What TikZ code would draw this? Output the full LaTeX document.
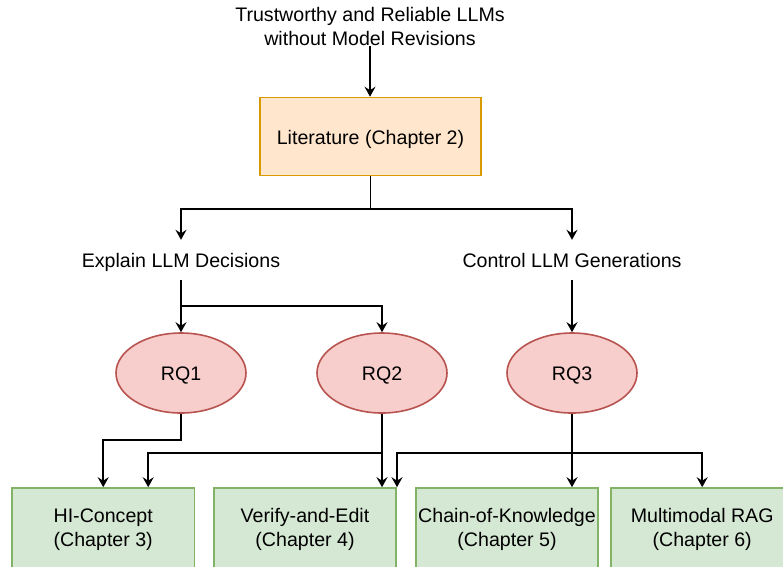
\documentclass[tikz,border=0pt]{standalone}
\usepackage{fontspec}
\setmainfont{Liberation Sans}
\usetikzlibrary{arrows.meta,shapes.geometric}
\definecolor{litfill}{HTML}{FFE6CC}
\definecolor{litdraw}{HTML}{D79B00}
\definecolor{rqfill}{HTML}{F8CECC}
\definecolor{rqdraw}{HTML}{B85450}
\definecolor{chfill}{HTML}{D5E8D4}
\definecolor{chdraw}{HTML}{82B366}
\tikzset{
  every node/.style={font=\fontsize{19.6}{24}\selectfont, align=center, inner sep=0pt},
  oneline/.style={text height=15.75pt, text depth=0pt},
  twoline/.style={text height=37.75pt, text depth=0pt},
  litbox/.style={oneline, rectangle, draw=litdraw, fill=litfill, line width=1.6pt, minimum width=221pt, minimum height=78pt},
  rqnode/.style={oneline, ellipse, draw=rqdraw, fill=rqfill, line width=1.6pt, minimum width=130pt, minimum height=80pt},
  chbox/.style={twoline, rectangle, draw=chdraw, fill=chfill, line width=1.6pt, minimum width=182.4pt, minimum height=80pt},
  labeltext/.style={oneline, minimum height=40pt},
  arr/.style={-{Stealth[length=10pt,width=11pt,inset=3.5pt]}, line width=1.6pt, black}
}
\begin{document}
\begin{tikzpicture}[x=1pt,y=-1pt]
\clip (0,0) rectangle (783,566);
\fill[white] (0,0) rectangle (783,566);

\node[twoline, minimum height=38pt] (goal) at (370,27) {Trustworthy and Reliable LLMs\\without Model Revisions};
\node[litbox] (lit) at (370.5,136.5) {Literature (Chapter 2)};

\node[labeltext] (explain) at (181,260) {Explain LLM Decisions};
\node[labeltext] (control) at (572,260) {Control LLM Generations};

\node[rqnode] (rq1) at (181,373) {RQ1};
\node[rqnode] (rq2) at (382,373) {RQ2};
\node[rqnode] (rq3) at (572,373) {RQ3};

\node[chbox] (b1) at (103.2,528) {HI-Concept\\(Chapter 3)};
\node[chbox] (b2) at (305,528) {Verify-and-Edit\\(Chapter 4)};
\node[chbox] (b3) at (507,528) {Chain-of-Knowledge\\(Chapter 5)};
\node[chbox] (b4) at (702.2,528) {Multimodal RAG\\(Chapter 6)};

\draw[arr] (goal.south) -- (goal.south |- lit.north);
\draw[arr] (lit.south) -- ++(0,32.5) -| (explain.north);
\draw[arr] (lit.south) -- ++(0,32.5) -| (control.north);

\draw[arr] (explain.south) -- (rq1.north);
\draw[arr] (explain.south) -- ++(0,26) -| (rq2.north);
\draw[arr] (control.south) -- (rq3.north);

\draw[arr] (rq1.south) -- ++(0,26) -| (b1.north);
\draw[arr] (rq2.south) -- ++(0,39) -| ([xshift=45pt]b1.north);
\draw[arr] (rq2.south) -- (rq2.south |- b2.north);
\draw[arr] (rq3.south) -- ++(0,39) -| (b2.north east);
\draw[arr] (rq3.south) -- (rq3.south |- b3.north);
\draw[arr] (rq3.south) -- ++(0,39) -| (b4.north);
\end{tikzpicture}
\end{document}
